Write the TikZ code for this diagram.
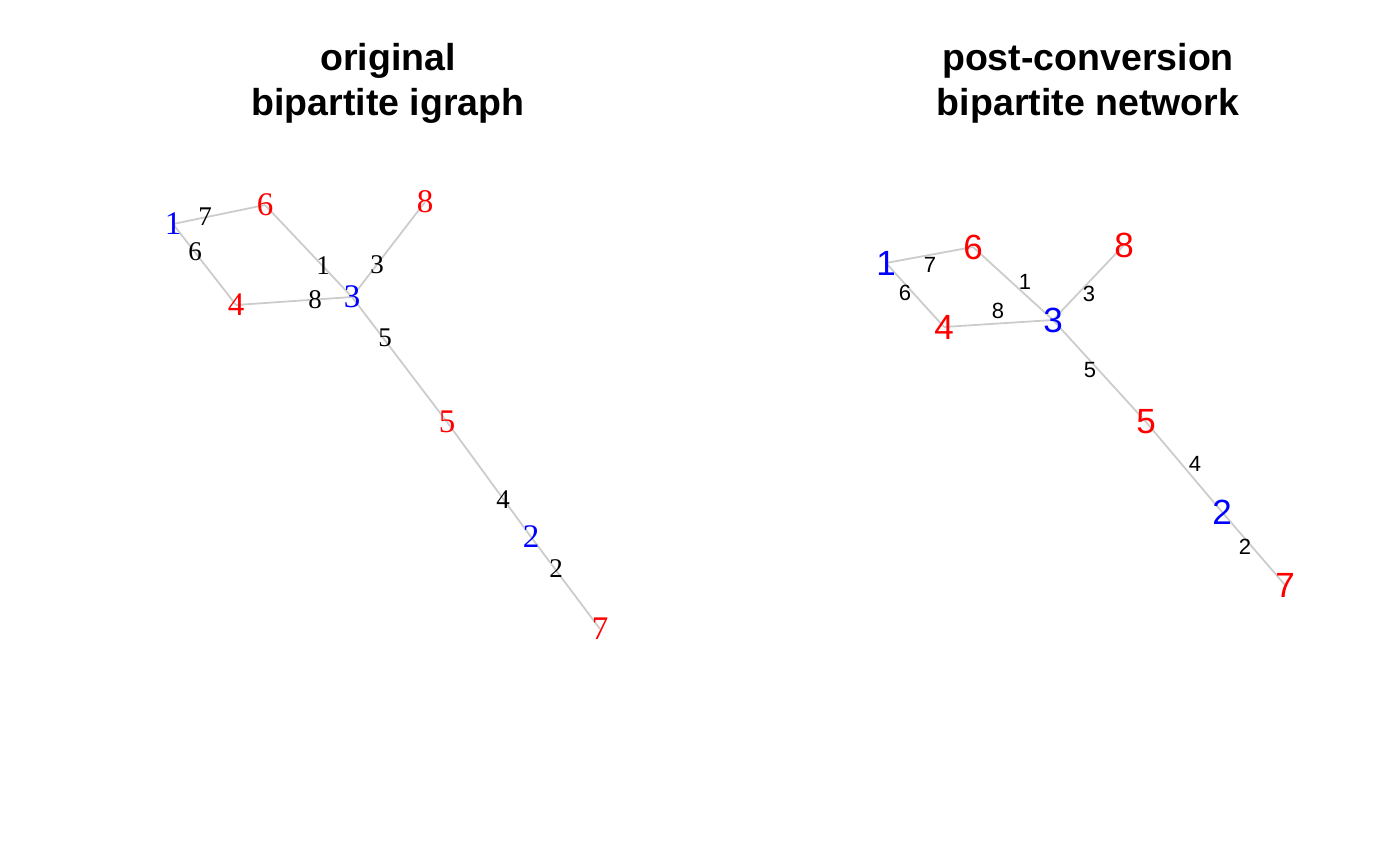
\documentclass[tikz,border=0pt]{standalone}
\usepackage{fontspec}
\setmainfont{Liberation Serif}
\setsansfont{Liberation Sans}
\usetikzlibrary{backgrounds}
\definecolor{edgegray}{RGB}{204,204,204}
\tikzset{
  title/.style={font=\sffamily\bfseries\fontsize{37.5}{45}\selectfont, align=center},
  lvert/.style={font=\rmfamily\fontsize{33}{33}\selectfont, inner sep=0pt},
  llab/.style={font=\rmfamily\fontsize{27}{27}\selectfont, inner sep=0pt},
  rvert/.style={font=\sffamily\fontsize{35}{35}\selectfont, inner sep=0pt},
  rlab/.style={font=\sffamily\fontsize{22}{22}\selectfont, inner sep=0pt},
  edge/.style={draw=edgegray, line width=1.8pt}
}
\begin{document}
\begin{tikzpicture}[x=1pt,y=-1pt]
	\useasboundingbox (0,0) rectangle (1400,866);
	% titles
	\node [title] (ltitle) at (388,83) {original\\bipartite igraph};
	\node [title] (rtitle) at (1088,83) {post-conversion\\bipartite network};
	% left graph
	\node [lvert, blue] (l1) at (173,224) {1};
	\node [lvert, blue] (l2) at (531,537) {2};
	\node [lvert, blue] (l3) at (352,297) {3};
	\node [lvert, red] (l4) at (236,305) {4};
	\node [lvert, red] (l5) at (447,422) {5};
	\node [lvert, red] (l6) at (265,205) {6};
	\node [lvert, red] (l7) at (600,629) {7};
	\node [lvert, red] (l8) at (425,202) {8};
	\node [llab] (le1) at (323,266) {1};
	\node [llab] (le2) at (556,569) {2};
	\node [llab] (le3) at (377,265) {3};
	\node [llab] (le4) at (503,500) {4};
	\node [llab] (le5) at (385,338) {5};
	\node [llab] (le6) at (195,252) {6};
	\node [llab] (le7) at (205,217) {7};
	\node [llab] (le8) at (315,300) {8};
	% right graph
	\node [rvert, blue] (r1) at (886,263) {1};
	\node [rvert, blue] (r2) at (1222,512) {2};
	\node [rvert, blue] (r3) at (1053,320) {3};
	\node [rvert, red] (r4) at (944,327) {4};
	\node [rvert, red] (r5) at (1146,422) {5};
	\node [rvert, red] (r6) at (973,247) {6};
	\node [rvert, red] (r7) at (1285,585) {7};
	\node [rvert, red] (r8) at (1124,245) {8};
	\node [rlab] (re1) at (1025,282) {1};
	\node [rlab] (re2) at (1245,547) {2};
	\node [rlab] (re3) at (1089,294) {3};
	\node [rlab] (re4) at (1195,464) {4};
	\node [rlab] (re5) at (1090,370) {5};
	\node [rlab] (re6) at (905,293) {6};
	\node [rlab] (re7) at (930,265) {7};
	\node [rlab] (re8) at (998,311) {8};
	% edges
	\begin{pgfonlayer}{background}
		\foreach \s in {l,r} {
			\foreach \a/\b in {6/3,7/2,3/8,2/5,3/5,1/4,1/6,4/3}
				\draw [edge] (\s\a.center) -- (\s\b.center);
		}
	\end{pgfonlayer}
\end{tikzpicture}
\end{document}
